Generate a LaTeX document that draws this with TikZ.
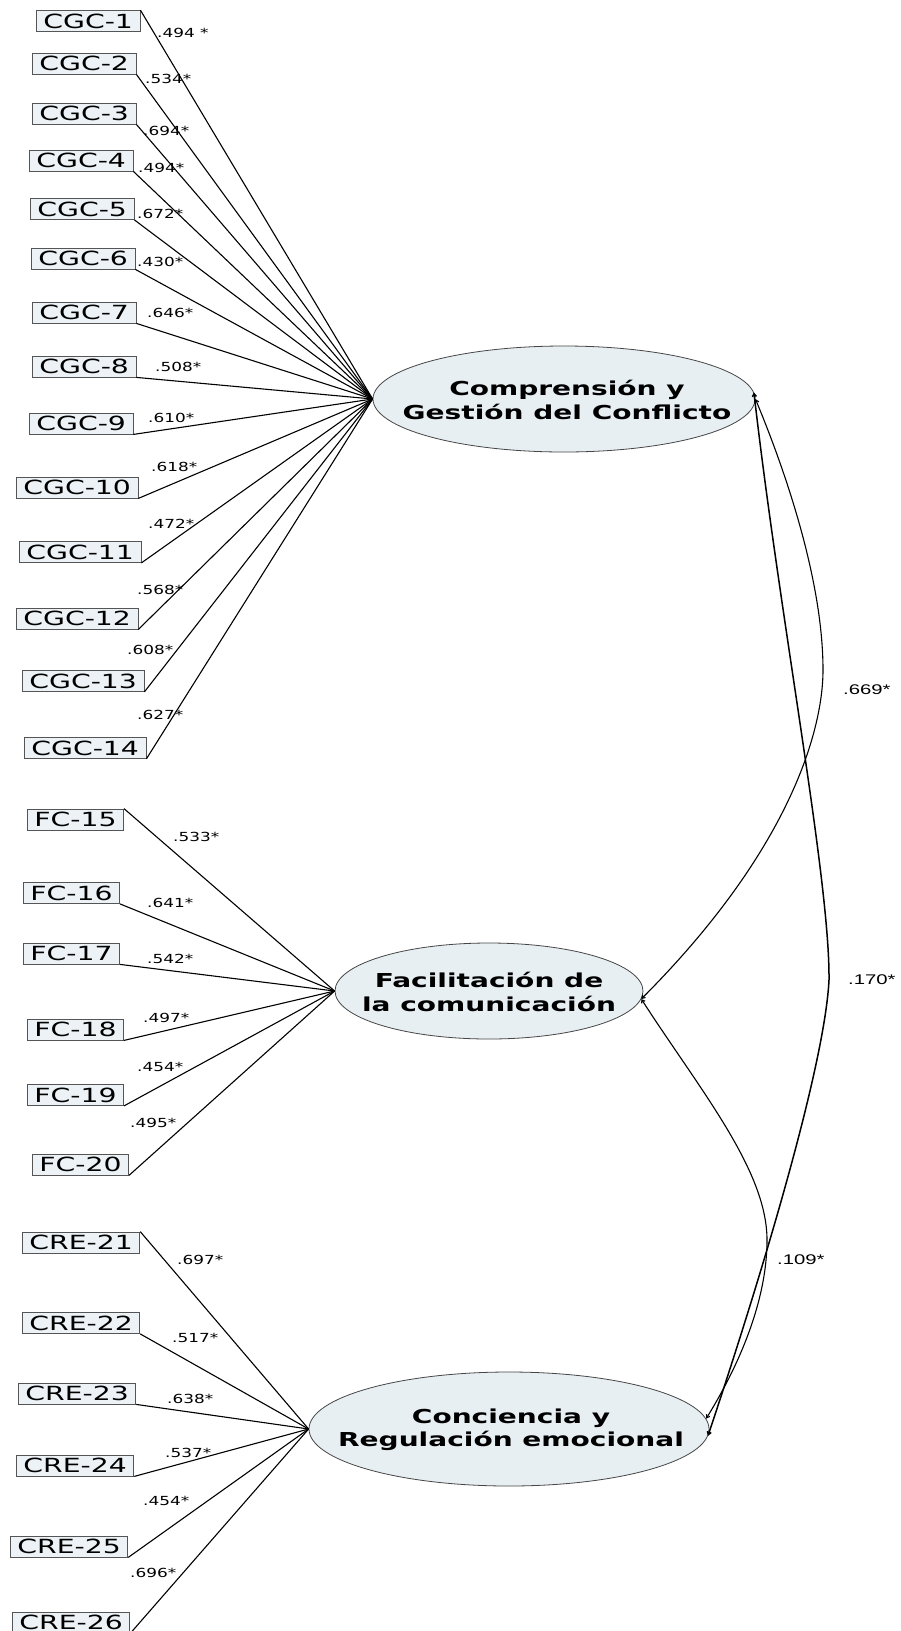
\documentclass[tikz,border=0pt]{standalone}
\usepackage{fontspec}
\usetikzlibrary{shapes.geometric,arrows.meta}
\newfontfamily\indfont[FakeStretch=1.45]{DejaVu Sans}
\newfontfamily\latfont[FakeStretch=1.46]{DejaVu Sans}
\newfontfamily\coeffont[FakeStretch=1.35]{DejaVu Sans}
\newfontfamily\covfont[FakeStretch=1.45]{Liberation Sans}
\definecolor{boxfill}{RGB}{236,242,245}
\definecolor{boxline}{RGB}{85,85,85}
\definecolor{latfill}{RGB}{232,239,243}
\definecolor{latline}{RGB}{70,70,70}
\begin{document}
\begin{tikzpicture}[x=1pt,y=-1pt,
  ind/.style={rectangle, draw=boxline, fill=boxfill, line width=0.8pt,
    inner xsep=7pt, inner ysep=3.5pt, text height=14pt, text depth=0pt,
    anchor=west, font=\indfont\fontsize{19.5}{20}\selectfont},
  lat/.style={ellipse, draw=latline, fill=latfill, line width=0.8pt, inner sep=0pt},
  lattext/.style={align=center, inner sep=0pt,
    font=\latfont\bfseries\fontsize{19.2}{23.5}\selectfont},
  coef/.style={anchor=west, inner sep=0pt, font=\coeffont\fontsize{12.5}{14}\selectfont},
  covlab/.style={anchor=west, inner sep=0pt, font=\covfont\fontsize{14}{16}\selectfont},
  loading/.style={draw=black, line width=1.1pt},
  cov/.style={draw=black, line width=1.1pt,
    {Straight Barb[length=3pt,width=4pt]}-{Straight Barb[length=3pt,width=4pt]}}
]
\fill[white] (0,0) rectangle (900,1631);
\useasboundingbox (0,0) rectangle (900,1631);

% latent factors
\node[lat, minimum width=382pt, minimum height=106pt] (cgc) at (564,399) {};
\node[lattext] (cgct) at (567,400) {Comprensión y\\Gestión del Conflicto};
\node[lat, minimum width=308pt, minimum height=96pt] (fc) at (489,991) {};
\node[lattext] (fct) at (489,992) {Facilitación de\\la comunicación};
\node[lat, minimum width=400pt, minimum height=114pt] (cre) at (509,1429) {};
\node[lattext] (cret) at (511,1430) {Conciencia y\\Regulación emocional};

% indicators of the first factor
\foreach \n/\x/\y in {1/36/21, 2/32/63.5, 3/32/113.5, 4/29/160.5, 5/30/209,
    6/31/258.5, 7/32/312.5, 8/32/366.5, 9/29/423.5, 10/16/487.5, 11/19/552,
    12/16/618.5, 13/22/681, 14/24/748}
  \node[ind] (cgc\n) at (\x,\y) {CGC-\n};
\draw[loading] (cgc1.north east) -- (cgc.west);
\foreach \n in {2,...,14}
  \draw[loading] (cgc\n.south east) -- (cgc.west);
\foreach \i/\t/\x/\y in {1/{.494 *}/157/33, 2/.534*/145/79, 3/.694*/143/131,
    4/.494*/138/168, 5/.672*/137/214, 6/.430*/137/262, 7/.646*/147/313,
    8/.508*/155/367, 9/.610*/148/418, 10/.618*/151/467, 11/.472*/148/524,
    12/.568*/137/590, 13/.608*/127/650, 14/.627*/137/715}
  \node[coef] (lcgc\i) at (\x,\y) {\t};

% indicators of the second factor
\foreach \n/\x/\y in {15/27/819.5, 16/23/893, 17/23/953.5, 18/27/1029.5,
    19/27/1095, 20/32/1164.5}
  \node[ind] (fc\n) at (\x,\y) {FC-\n};
\draw[loading] (fc15.north east) -- (fc.west);
\foreach \n in {16,...,20}
  \draw[loading] (fc\n.south east) -- (fc.west);
\foreach \i/\t/\x/\y in {15/.533*/173/837, 16/.641*/147/903, 17/.542*/147/959,
    18/.497*/143/1018, 19/.454*/137/1067, 20/.495*/130/1123}
  \node[coef] (lfc\i) at (\x,\y) {\t};

% indicators of the third factor
\foreach \n/\x/\y in {21/22/1242.5, 22/22/1323, 23/18/1393.5, 24/16/1465.5,
    25/10/1546.5, 26/12/1622.5}
  \node[ind] (cre\n) at (\x,\y) {CRE-\n};
\draw[loading] (cre21.north east) -- (cre.west);
\foreach \n in {22,...,26}
  \draw[loading] (cre\n.south east) -- (cre.west);
\foreach \i/\t/\x/\y in {21/.697*/177/1260, 22/.517*/172/1338, 23/.638*/167/1399,
    24/.537*/165/1453, 25/.454*/143/1501, 26/.696*/130/1573}
  \node[coef] (lcre\i) at (\x,\y) {\t};

% factor covariances
\draw[cov] (cgc.east) .. controls (785,470) and (823,580) .. (823,670)
  .. controls (823,730) and (790,850) .. (fc.-3);
\draw[cov, line width=1.5pt] (cgc.2) .. controls (780,620) and (830,880) .. (829,980)
  .. controls (825,1060) and (770,1250) .. (cre.-2);
\draw[cov] (fc.-3) .. controls (700,1090) and (767,1170) .. (767,1240)
  .. controls (767,1310) and (730,1380) .. (cre.3);
\node[covlab] (l669) at (843,690) {.669*};
\node[covlab] (l170) at (848,980) {.170*};
\node[covlab] (l109) at (777,1260) {.109*};
\end{tikzpicture}
\end{document}
